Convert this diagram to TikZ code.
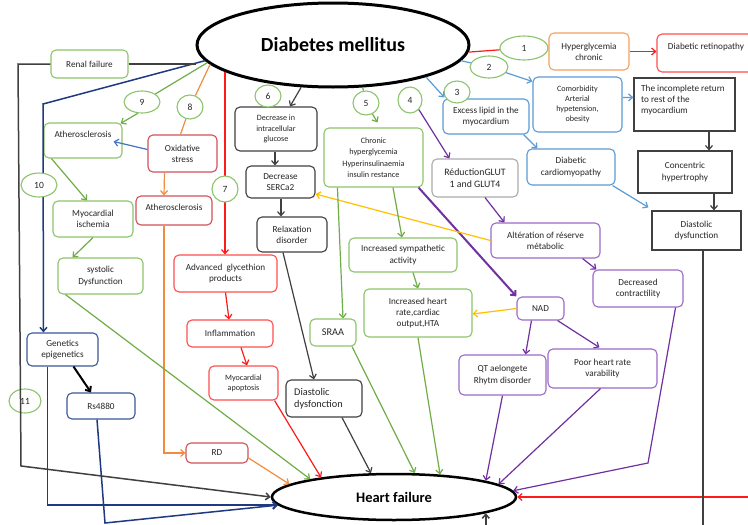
\documentclass[tikz,border=0pt]{standalone}
\usepackage{fontspec}
\setmainfont{Carlito}
\usetikzlibrary{shapes.geometric,arrows.meta,calc}
\definecolor{txt}{HTML}{262626}
\definecolor{gline}{HTML}{70AD47}
\definecolor{gbox}{HTML}{8CC46B}
\definecolor{bline}{HTML}{5B9BD5}
\definecolor{rline}{HTML}{FF1A1A}
\definecolor{rbox}{HTML}{FF4D4D}
\definecolor{rose}{HTML}{D0505A}
\definecolor{oline}{HTML}{F28C3C}
\definecolor{obox}{HTML}{F4A15D}
\definecolor{pline}{HTML}{7030A0}
\definecolor{pbox}{HTML}{9B6BC8}
\definecolor{nline}{HTML}{1F3A80}
\definecolor{nbox}{HTML}{3B5998}
\definecolor{yline}{HTML}{FFC000}
\definecolor{glutc}{HTML}{ABABAB}
\definecolor{dk}{HTML}{404040}
\definecolor{oxblue}{HTML}{4472C4}
\newcommand\myfn{\fontsize{9.2}{11.2}\selectfont}
\newcommand\myfs{\fontsize{8.1}{10.2}\selectfont}
\newcommand\myfl{\fontsize{10.3}{12}\selectfont}
\newcommand\myfc{\fontsize{8.2}{11.5}\selectfont}
\newcommand\myfnum{\fontsize{9.5}{11}\selectfont}
\begin{document}
\begin{tikzpicture}[x=1pt,y=-1pt,
  box/.style={draw, fill=white, rounded corners=5pt, align=center, inner sep=1pt, line width=1.1pt, text=txt, font=\myfn},
  sq/.style={draw=dk, fill=white, align=center, inner sep=1pt, line width=1.2pt, text=txt, font=\myfn},
  sz/.style 2 args={minimum width=#1pt, minimum height=#2pt},
  num/.style={ellipse, draw=gbox, fill=white, inner sep=0pt, line width=1.1pt, text=txt, font=\myfnum},
  lbl/.style={inner sep=0pt, text=txt, font=\myfn},
  ln/.style={line width=1.2pt},
  arr/.style={-{Straight Barb[length=4pt,width=7pt]}},
]
\useasboundingbox (0,0) rectangle (748,525);
\clip (0,0) rectangle (748,525);
\fill[white] (0,0) rectangle (748,525);

% main ellipses
\node[ellipse, draw=black, line width=3pt, fill=white, minimum width=272pt, minimum height=84pt, inner sep=0pt, font=\bfseries\fontsize{20}{24}\selectfont] (DM) at (333,45) {Diabetes mellitus};
\node[ellipse, draw=black, line width=2.5pt, fill=white, minimum width=244pt, minimum height=46pt, inner sep=0pt, font=\bfseries\fontsize{14.5}{17}\selectfont] (HF) at (394,497) {Heart failure};

% right column
\node[box, draw=obox, sz={80}{37}] (hyper) at (589,51.5) {Hyperglycemia\\chronic};
\node[box, draw=rbox, sz={103}{38}] (retino) at (708.5,53) {};
\node[lbl] (retinot) at (706,47) {Diabetic retinopathy};
\node[box, draw=bline, sz={89}{55}, font=\myfs] (comorb) at (577.5,104.5) {Comorbidity\\Arterial\\hypetension,\\obesity};
\node[sq, sz={101}{53}] (incomplete) at (684.5,104.5) {};
\node[lbl, anchor=north west, align=left] (incompt) at (641,85) {The incomplete return\\to rest of the\\myocardium};
\node[sq, sz={94}{42}] (concentric) at (685,172) {Concentric\\hypertrophy};
\node[sq, sz={89}{39}] (diasR) at (696.5,230.5) {Diastolic\\dysfunction};
\node[box, draw=bline, sz={86}{35}] (lipid) at (486,116.5) {Excess lipid in the\\myocardium};
\node[box, draw=bline, sz={88}{36}] (cardio) at (571,167) {Diabetic\\cardiomyopathy};
\node[box, draw=glutc, sz={86}{38}, font=\fontsize{9.8}{11.8}\selectfont] (glut) at (475,178) {RéductionGLUT\\1 and GLUT4};
\node[box, draw=pbox, sz={109}{35}] (alter) at (545.5,240.5) {Altération of réserve\\métabolic};
\node[box, draw=pbox, sz={90}{37}] (contract) at (638,288.5) {Decreased\\contractility};
\node[box, draw=pbox, sz={47}{23}] (nad) at (540.5,308.5) {NAD};
\node[box, draw=pbox, sz={87}{40}] (qt) at (502.5,375) {QT aelongete\\Rhytm disorder};
\node[box, draw=pbox, sz={109}{39}] (poor) at (602.5,368.5) {Poor heart rate\\varability};

% centre
\node[box, draw=gbox, sz={99}{59}, font=\myfc] (chronic) at (373.5,157.5) {Chronic\\hyperglycemia\\Hyperinsulinaemia\\insulin restance};
\node[box, draw=gbox, sz={108}{34}] (symp) at (403,255) {Increased sympathetic\\activity};
\node[box, draw=gbox, sz={108}{48}] (incHR) at (418,313) {Increased heart\\rate,cardiac\\output,HTA};
\node[box, draw=gbox, sz={46}{27}, font=\myfl] (sraa) at (333,332.5) {SRAA};
\node[box, draw=dk, sz={82}{44}, font=\myfs] (decInt) at (276,129) {Decrease in\\intracellular\\glucose};
\node[box, draw=dk, sz={69}{32}] (serca) at (280.5,182) {Decrease\\SERCa2};
\node[box, draw=dk, sz={70}{35}] (relax) at (292,234.5) {Relaxation\\disorder};
\node[box, draw=dk, sz={76}{37}] (diasC) at (324,398.5) {};
\node[lbl, anchor=west, align=left, font=\myfl] (diasCt) at (294,399) {Diastolic\\dysfonction};
\node[box, draw=rbox, sz={103}{37}] (adv) at (225.5,273.5) {Advanced~~glycethion\\products};
\node[box, draw=rbox, sz={86}{27}] (infl) at (230,333.5) {Inflammation};
\node[box, draw=rbox, sz={69}{34}, font=\myfs] (apopt) at (243.5,383) {Myocardial\\apoptosis};

% left
\node[box, draw=rose, sz={69}{37}] (oxid) at (182.5,153.5) {Oxidative\\stress};
\node[box, draw=rose, sz={76}{29}] (atheroM) at (174,210.5) {};
\node[lbl] (atheroMt) at (174,207) {Atherosclerosis};
\node[box, draw=rose, sz={62}{20}] (rd) at (217,453) {RD};
\node[box, draw=gbox, sz={77}{28}] (renal) at (89.5,64) {Renal failure};
\node[box, draw=gbox, sz={78}{35}] (atheroL) at (83,140.5) {};
\node[lbl] (atheroLt) at (83,134) {Atherosclerosis};
\node[box, draw=gbox, sz={80}{36}] (ischemia) at (93,219) {Myocardial\\ischemia};
\node[box, draw=gbox, sz={85}{36}] (systolic) at (100.5,276) {systolic\\Dysfunction};
\node[box, draw=nbox, sz={71}{33}] (genetics) at (62.5,349.5) {Genetics\\epigenetics};
\node[box, draw=nbox, sz={68}{26}] (rs) at (101,406) {Rs4880};

% number ellipses
\node[num, sz={48}{24}] (e1) at (524,48) {1};
\node[num, sz={38}{22}] (e2) at (489,67) {2};
\node[num, sz={26}{22}] (e3) at (457,92) {3};
\node[num, sz={24}{26}] (e4) at (410,100) {4};
\node[num, sz={26}{24}] (e5) at (366,103) {5};
\node[num, sz={26}{22}] (e6) at (268,96) {6};
\node[num, sz={26}{24}] (e8) at (190,107) {8};
\node[num, sz={36}{22}] (e9) at (142,102) {9};
\node[num, sz={32}{24}] (e11) at (25,401) {11};

% red top
\draw[rline, ln] (DM.-3) -- (e1);
\draw[rline, ln, arr] (hyper.east) -- (hyper.east -| retino.west);
\draw[rline, ln, arr] (retino.east) -- ++(15,0) |- (HF.east);
% blue
\draw[bline, ln] (DM.-7) -- (e2);
\draw[bline, ln, arr] (e2) -- ($(comorb.north west)+(0,5)$);
\draw[bline, ln, arr] (DM.-19) -- ($(lipid.north west)+(2,-1)$);
\draw[bline, ln, arr] ($(lipid.south east)+(-6,0)$) -- ($(cardio.north west)+(11,0)$);
\draw[bline, ln, arr] ($(comorb.north east)+(0,21)$) -- ($(incomplete.north west)+(0,20)$);
\draw[bline, ln, arr] ($(cardio.south east)+(-3,0)$) -- ($(diasR.north west)+(-3,-3)$);
% black right
\draw[dk, ln, arr] ($(incomplete.south)+(24.5,0)$) -- ($(concentric.north)+(24,0)$);
\draw[dk, ln, arr] ($(concentric.south)+(29,0)$) -- ($(diasR.north)+(17.5,0)$);
\draw[dk, line width=1.5pt, arr] ($(diasR.south)+(6.5,0)$) -- ++(0,290) -| (HF.-10);
% purple
\draw[pline, ln, arr] (e4.south east) -- ($(glut.north west)+(18,0)$);
\draw[pline, ln, arr] ($(glut.south)+(10,0)$) -- ($(alter.north west)+(14,0)$);
\draw[pline, ln, arr] ($(alter.south east)+(-18,0)$) -- ($(contract.north west)+(4,0)$);
\coordinate (pc) at (648,463);
\draw[pline, ln, arr] ($(contract.south east)+(-8,0)$) -- (pc) -- (HF.3);
\draw[pline, line width=2pt, arr] ($(chronic.south east)+(-5,0)$) -- (nad.north west);
\draw[pline, ln, arr] ($(nad.south west)+(15,0)$) -- ($(qt.north east)+(-21,0)$);
\draw[pline, ln, arr] ($(nad.south east)+(-7,0)$) -- ($(poor.north west)+(52,-1)$);
\draw[pline, ln, arr] (qt.south) -- (HF.10.5);
\draw[pline, ln, arr] ($(poor.south)+(-2,0)$) -- (HF.7.6);
% yellow
\draw[yline, ln, arr] (alter.west) -- ($(serca.east)+(0,12)$);
\draw[yline, ln, arr] (nad.west) -- ($(incHR.east)+(0,1)$);
% green centre
\draw[gline, ln] (DM.-55) -- (e5);
\draw[gline, ln, arr] (e5) -- ($(chronic.north)+(4,-5)$);
\draw[gline, ln, arr] ($(chronic.south)+(19.5,0)$) -- ($(symp.north)+(-1,0)$);
\draw[gline, ln, arr] ($(chronic.south west)+(14,0)$) -- ($(sraa.north)+(10,0)$);
\draw[gline, ln, arr] ($(symp.south)+(10,0)$) -- (incHR.north);
\draw[gline, ln, arr] ($(sraa.south)+(19,0)$) -- (HF.49);
\draw[gline, ln, arr] (incHR.south) -- (HF.26);
% black centre
\draw[dk, ln, arr] (DM.233) -- ($(decInt.north)+(14,0)$);
\draw[dk, ln, arr] ($(decInt.south)+(-1,0)$) -- ($(serca.north)+(-5.5,0)$);
\draw[dk, ln, arr] ($(serca.south)+(0.5,0)$) -- ($(relax.north)+(-11,0)$);
\draw[dk, ln, arr] ($(relax.south)+(-9,0)$) -- ($(diasC.north)+(-10,0)$);
\draw[dk, ln, arr] ($(diasC.south)+(18,0)$) -- (HF.134);
% red left
\draw[rline, ln, arr] (DM.194) -- (DM.194 |- adv.north);
\draw[rline, ln, arr] (adv.south) -- ($(infl.north)+(-1,0)$);
\draw[rline, ln, arr] ($(infl.south)+(11,0)$) -- ($(apopt.north)+(3.5,0)$);
\draw[rline, ln, arr] ($(apopt.south east)+(-4,0)$) -- (HF.165.8);
% orange
\draw[oline, ln] (DM.189) -- (e8);
\draw[oline, ln] (e8) -- ($(oxid.north)+(-2,0)$);
\draw[oline, ln, arr] ($(oxid.south)+(-18,0)$) -- ($(atheroM.north)+(-10,0)$);
\draw[oline, ln, arr] ($(atheroM.south)+(-10,0)$) |- (rd.west);
\draw[oline, ln, arr] ($(rd.east)+(0,5)$) -- (HF.173);
% blue from oxidative stress
\draw[oxblue, ln, arr] ($(oxid.west)+(0,-4)$) -- ($(atheroL.east)+(-9,1)$);
% green left
\draw[gline, ln] (DM.188) -- (e9);
\draw[gline, ln, arr] (e9.250) -- ($(atheroL.north east)+(-2,1)$);
\draw[gline, ln, arr] ($(atheroL.south west)+(8,0)$) -- ($(ischemia.north)+(-6,0)$);
\draw[gline, ln, arr] (ischemia.south) -- ($(systolic.north west)+(15,0)$);
\draw[gline, ln, arr] ($(systolic.south west)+(8,0)$) -- (HF.168.5);
% navy
\coordinate (nv) at (43,104);
\draw[nline, line width=1.5pt, arr] (DM.187) -- (nv) -- ($(genetics.north west)+(17,0)$);
\draw[black, line width=2pt, arr] ($(genetics.south)+(11,0)$) -- ($(rs.north)+(-10,0)$);
\draw[nline, line width=1.5pt, arr] ($(genetics.south west)+(21,0)$) |- (HF.184);
\coordinate (nv2) at (105,523);
\draw[nline, line width=1.5pt, arr] ($(rs.south)+(-4,0)$) -- (nv2) -- (HF.184);
% black renal loop
\draw[dk, ln] (renal.east) -- (renal.east -| DM.west);
\coordinate (bk1) at (18,64);
\coordinate (bk2) at (21,466);
\draw[dk, line width=1.5pt, arr] (renal.west) -- (bk1) -- (bk2) -- (HF.west);

% ellipses drawn over lines
\node[num, sz={26}{26}] (e7) at (225,189) {7};
\node[num, sz={36}{24}] (e10) at (39,185) {10};
\end{tikzpicture}
\end{document}
